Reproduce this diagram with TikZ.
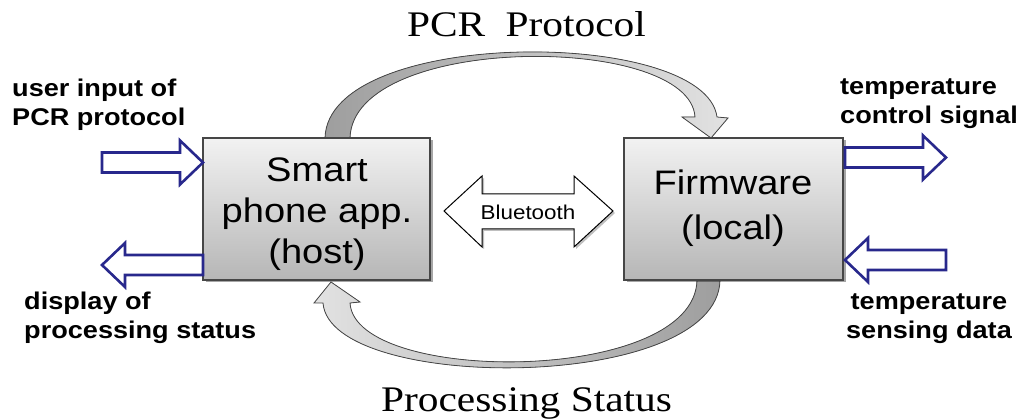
\documentclass[tikz,border=0pt]{standalone}
\usepackage{fontspec}
\usetikzlibrary{shadows}
\newfontfamily\sfx{Liberation Sans}[FakeStretch=1.12]
\newfontfamily\rmx{Liberation Serif}[FakeStretch=1.15]
\definecolor{navy}{RGB}{40,40,140}
\definecolor{boxtop}{RGB}{242,242,242}
\definecolor{boxbot}{RGB}{182,182,182}
\definecolor{arrdark}{RGB}{158,158,158}
\definecolor{arrlight}{RGB}{226,226,226}
\definecolor{edge}{RGB}{70,70,70}
\begin{document}
\begin{tikzpicture}[x=1pt,y=-1pt,
  panel/.style={draw=edge, line width=1.2pt, top color=boxtop, bottom color=boxbot,
    minimum width=220pt, minimum height=142pt, inner sep=0pt,
    drop shadow={shadow xshift=2.5pt, shadow yshift=-2.5pt, opacity=0.35, fill=black}},
  boxtxt/.style={inner sep=0pt, anchor=base, font={\sfx\fontsize{34}{41}\selectfont}},
  lbl/.style={inner sep=0pt, font={\sfx\bfseries\fontsize{24.2}{28.5}\selectfont}},
  ttl/.style={inner sep=0pt, anchor=base, font={\rmx\fontsize{36}{40}\selectfont}},
  bluearrow/.style={draw=navy, line width=2.6pt, fill=white, line join=miter},
  curvarrow/.style={draw=edge, line width=0.8pt},
  btarrow/.style={draw=black, line width=1pt, fill=white, line join=miter},
]
\useasboundingbox (0,0) rectangle (1020,419);

% curved arrows (drawn before the boxes)
\filldraw[curvarrow, left color=arrdark, right color=arrlight]
  (325,138) .. controls (328,27) and (705,27) .. (717,117)
  -- (728,118) -- (711,138) -- (682,117) -- (695,117)
  .. controls (690,33) and (353,33) .. (350,138) -- cycle;
\filldraw[curvarrow, left color=arrlight, right color=arrdark]
  (720,280) .. controls (718,393) and (330,393) .. (323,303)
  -- (314,303) -- (331,282) -- (360,302) -- (350,303)
  .. controls (355,385) and (695,385) .. (697,280) -- cycle;

% boxes
\node[panel, minimum width=227pt] (host) at (316.5,209) {};
\node[panel, minimum width=219pt] (fw) at (733.5,209) {};

\node[boxtxt] (hosttxt) at (317,182)
  {\begin{tabular}[t]{@{}c@{}}Smart\\phone app.\\(host)\end{tabular}};
\node[boxtxt, font={\sfx\fontsize{34}{45}\selectfont}] (fwtxt) at (733,195)
  {\begin{tabular}[t]{@{}c@{}}Firmware\\(local)\end{tabular}};

% Bluetooth double arrow
\fill[black, opacity=0.25] (446,213) -- (484,178) -- (484,196) -- (576,196) -- (576,178)
  -- (615,213) -- (576,249) -- (576,231) -- (484,231) -- (484,249) -- cycle;
\filldraw[btarrow] (444,211) -- (482,176) -- (482,194) -- (574,194) -- (574,176)
  -- (613,211) -- (574,247) -- (574,229) -- (482,229) -- (482,247) -- cycle;
\node[inner sep=0pt, font={\sfx\fontsize{20}{24}\selectfont}] (bt) at (528,212) {Bluetooth};

% blue block arrows
\filldraw[bluearrow] (102,152.5) -- (180,152.5) -- (180,140.5) -- (203,162.5)
  -- (180,184.5) -- (180,172.5) -- (102,172.5) -- cycle;
\filldraw[bluearrow] (203,255) -- (125,255) -- (125,243) -- (102,265)
  -- (125,287) -- (125,275) -- (203,275) -- cycle;
\filldraw[bluearrow] (845,147.5) -- (923,147.5) -- (923,135.5) -- (946,157.5)
  -- (923,179.5) -- (923,167.5) -- (845,167.5) -- cycle;
\filldraw[bluearrow] (946,250) -- (868,250) -- (868,238) -- (845,260)
  -- (868,282) -- (868,270) -- (946,270) -- cycle;

% labels
\node[lbl, anchor=base west] (uin) at (12,97)
  {\begin{tabular}[t]{@{}l@{}}user input of\\PCR protocol\end{tabular}};
\node[lbl, anchor=base west] (disp) at (24,310)
  {\begin{tabular}[t]{@{}l@{}}display of\\processing status\end{tabular}};
\node[lbl, anchor=base west] (tcs) at (840,95)
  {\begin{tabular}[t]{@{}l@{}}temperature\\control signal\end{tabular}};
\node[lbl, anchor=base] (tsd) at (929,310)
  {\begin{tabular}[t]{@{}c@{}}temperature\\sensing data\end{tabular}};

% titles
\node[ttl] (pcr) at (526.5,37) {PCR\hspace{10pt} Protocol};
\node[ttl] (proc) at (526.5,412) {Processing Status};
\end{tikzpicture}
\end{document}
